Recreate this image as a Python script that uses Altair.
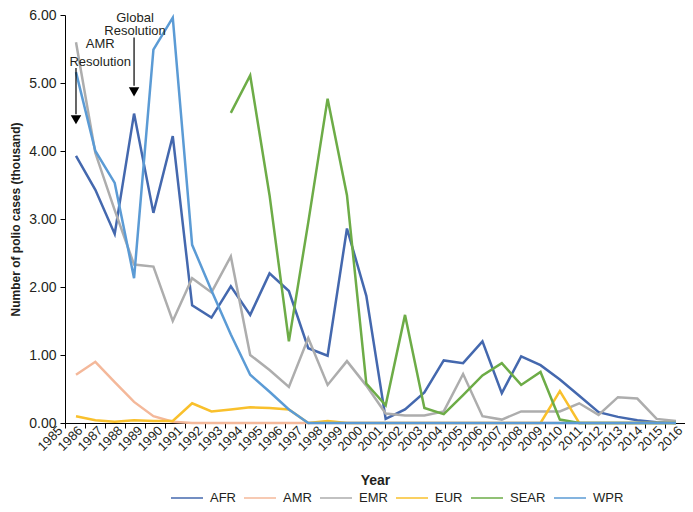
import json
import altair as alt
import pandas as pd

years = list(range(1985, 2017))
tick_labels = [str(y) for y in range(1985, 2017)]

afr = [3.93, 3.43, 2.78, 4.55, 3.09, 4.22, 1.73, 1.55, 2.01, 1.59,
       2.20, 1.94, 1.10, 0.99, 2.86, 1.87, 0.06, 0.20, 0.45, 0.92,
       0.88, 1.20, 0.44, 0.98, 0.85, 0.64, 0.40, 0.16, 0.09, 0.04,
       0.01, 0.00]
amr = [0.71, 0.90, 0.60, 0.31, 0.10, 0.02] + [0.0] * 26
emr = [5.60, 3.97, 3.13, 2.33, 2.30, 1.50, 2.13, 1.92, 2.45, 1.00,
       0.78, 0.53, 1.25, 0.56, 0.91, 0.55, 0.14, 0.11, 0.11, 0.17,
       0.72, 0.10, 0.05, 0.17, 0.17, 0.17, 0.29, 0.12, 0.38, 0.36,
       0.06, 0.03]
eur = [0.10, 0.04, 0.02, 0.04, 0.03, 0.03, 0.29, 0.17, 0.20, 0.23,
       0.22, 0.20, 0.00, 0.03] + [0.0] * 11 + [0.47] + [0.0] * 6
sear = [None] * 8 + [4.56, 5.11, 3.35, 1.20, 2.95, 4.77, 3.35, 0.58,
                     0.26, 1.59, 0.22, 0.13, 0.41, 0.70, 0.88, 0.56,
                     0.75, 0.05, 0.00] + [0.0] * 5
wpr = [5.16, 4.00, 3.53, 2.13, 5.49, 5.96, 2.62, 1.95, 1.30, 0.71,
       0.46, 0.20] + [0.0] * 20

regions = ["AFR", "AMR", "EMR", "EUR", "SEAR", "WPR"]
colors = ["#4468AE", "#F4B89A", "#ADADAD", "#F9C02C", "#6DAC47", "#5B9BD5"]

ann_text = ["AMR", "Resolution", "Global", "Resolution"]
ann_year = [1986.25, 1986.25, 1988.05, 1988.05]
ann_val = [5.57, 5.31, 5.96, 5.76]

arrow_year = [1985, 1988]
arrow_top = [5.22, 5.67]
arrow_bottom = [4.54, 4.96]
head_val = [4.46, 4.87]

rows = []
for name, vals in zip(regions, [afr, amr, emr, eur, sear, wpr]):
    for yr, v in zip(years, vals):
        if v is not None:
            rows.append({"Year": yr, "Region": name, "Cases": v})
df = pd.DataFrame(rows)

ann_df = pd.DataFrame({"Year": ann_year, "Cases": ann_val, "Text": ann_text})
arr_df = pd.DataFrame({"Year": arrow_year, "Cases": arrow_top, "Cases2": arrow_bottom})
head_df = pd.DataFrame({"Year": arrow_year, "Cases": head_val})

FONT = "Liberation Sans"
TXT = "#231f20"

x_lo, x_hi = 1984.432, 2016.465
tick_vals = [x_lo + i * (x_hi - x_lo) / 31 for i in range(32)]
label_expr = (json.dumps(tick_labels) +
              f"[round((datum.value - {x_lo}) * 31 / {x_hi - x_lo})]")

x_enc = alt.X(
    "Year:Q",
    scale=alt.Scale(domain=[x_lo, x_hi], nice=False, zero=False),
    axis=alt.Axis(
        values=tick_vals, labelExpr=label_expr, labelAngle=-45,
        labelAlign="right", labelBaseline="bottom", labelFontSize=13,
        labelPadding=5, tickSize=5, grid=False, title="Year",
        titleFontSize=14, titleFontWeight="bold", titleY=57,
        titleBaseline="middle", labelFont=FONT, titleFont=FONT,
        domainColor="black", tickColor="black", labelColor=TXT,
        titleColor=TXT, labelOverlap=False, labelBound=False,
    ),
)
y_enc = alt.Y(
    "Cases:Q",
    scale=alt.Scale(domain=[0, 6], nice=False),
    axis=alt.Axis(
        values=[0, 1, 2, 3, 4, 5, 6], format=".2f", tickSize=5,
        labelFontSize=14, labelPadding=4, grid=False,
        title="Number of polio cases (thousand)", titleFontSize=12,
        titleFontWeight="bold", titleX=-50, titleY=204,
        titleBaseline="middle", labelFont=FONT, titleFont=FONT,
        domainColor="black", tickColor="black", labelColor=TXT,
        titleColor=TXT,
    ),
)

lines = alt.Chart(df).mark_line(strokeWidth=2.5).encode(
    x=x_enc,
    y=y_enc,
    color=alt.Color(
        "Region:N",
        scale=alt.Scale(domain=regions, range=colors),
        legend=alt.Legend(
            orient="none", legendX=105, legendY=466, direction="horizontal",
            columns=6, symbolType="stroke", symbolSize=1024,
            symbolStrokeWidth=1.5, labelFontSize=13, labelOffset=6,
            columnPadding=5, title=None, labelFont=FONT,
            labelColor=TXT,
        ),
    ),
)

texts = alt.Chart(ann_df).mark_text(
    fontSize=13, font=FONT, color=TXT, baseline="middle", align="center"
).encode(x=x_enc, y=y_enc, text="Text:N")

shafts = alt.Chart(arr_df).mark_rule(color="black", strokeWidth=1.2).encode(
    x=x_enc, y=y_enc, y2="Cases2:Q"
)

heads = alt.Chart(head_df).mark_point(
    shape="triangle-down", filled=True, color="black", size=110, opacity=1
).encode(x=x_enc, y=y_enc)

chart = alt.layer(lines, shafts, heads, texts).properties(
    width=620, height=408,
    padding={"left": 57, "top": 7, "right": 0, "bottom": 81},
    autosize="none",
    background="white",
).configure_view(stroke=None)

chart.save("out.html", embed_options={"renderer": "svg", "actions": False})
